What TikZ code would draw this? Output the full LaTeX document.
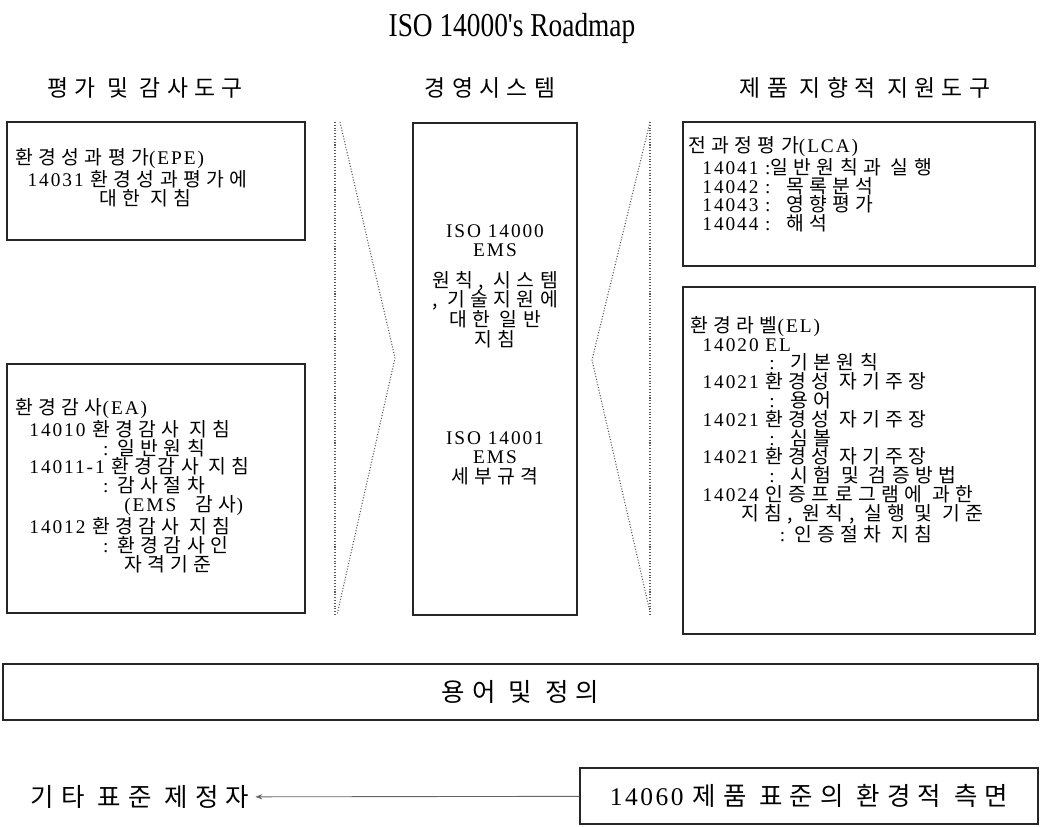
\documentclass[tikz,border=0pt]{standalone}
\usepackage{fontspec}
\setmainfont{Liberation Serif}[LetterSpace=10]
\newfontfamily\kr{Noto Sans CJK KR}[LetterSpace=28]
\newfontfamily\titlefont{Liberation Serif}[Ligatures=TeXOff, FakeStretch=0.82]
\usetikzlibrary{arrows.meta}

\tikzset{
  boxline/.style={draw=black!85, line width=1.3pt},
  boxtext/.style={anchor=north west, align=left, inner sep=0pt, font=\fontsize{11}{10.7}\selectfont},
  midtext/.style={anchor=north, align=center, inner sep=0pt, font=\fontsize{11}{11.2}\selectfont},
  headtext/.style={font=\fontsize{13}{15}\selectfont},
  bigtext/.style={font=\fontsize{14.5}{16}\selectfont},
  chevron/.style={draw=black!65, densely dotted, line width=0.6pt},
}

\begin{document}
\begin{tikzpicture}[x=0.02cm, y=-0.02cm]
    \useasboundingbox (0,0) rectangle (1041,827);

    % title and column heads
    \node (title) at (512,28) {\titlefont\fontsize{19}{21}\selectfont ISO 14000's Roadmap};
    \node[headtext] (headl) at (145,88) {\kr 평가 및 감사도구};
    \node[headtext] (headm) at (490,88) {\kr 경영시스템};
    \node[headtext] (headr) at (865,88) {\kr 제품 지향적 지원도구};

    % boxes
    \draw[boxline] (7,122) rectangle (305,240);
    \draw[boxline] (7,364) rectangle (305,613);
    \draw[boxline] (413,123) rectangle (577,615);
    \draw[boxline] (683,122) rectangle (1035,266);
    \draw[boxline] (683,287) rectangle (1035,634);

    % dotted chevrons
    \draw[chevron] (335,122) -- (335,615);
    \draw[chevron] (340,122) -- (395,358) -- (337,615);
    \draw[chevron] (650,122) -- (650,615);
    \draw[chevron] (650,122) -- (592,360) -- (650,612);

    % left column
    \node[boxtext] (epe) at (15,148) {{\kr 환경성과평가}(EPE)\\
        \hspace{7pt}14031 {\kr 환경성과평가에}\\
        \hspace{48pt}{\kr 대한 지침}};
    \node[boxtext] (ea) at (15,398) {{\kr 환경감사}(EA)\\
        \hspace{8pt}14010 {\kr 환경감사 지침}\\
        \hspace{50pt}: {\kr 일반원칙}\\
        \hspace{8pt}14011-1 {\kr 환경감사 지침}\\
        \hspace{50pt}: {\kr 감사절차}\\
        \hspace{62pt}(EMS\hspace{1em}{\kr 감사})\\
        \hspace{8pt}14012 {\kr 환경감사 지침}\\
        \hspace{50pt}: {\kr 환경감사인}\\
        \hspace{62pt}{\kr 자격기준}};

    % middle column
    \node[midtext] (ems) at (495,224) {ISO 14000\\EMS\\[6pt]{\kr 원칙, 시스템}\\{\kr , 기술지원에}\\{\kr 대한 일반}\\{\kr 지침}};
    \node[midtext] (ems1) at (495,431) {ISO 14001\\EMS\\{\kr 세부규격}};

    % right column
    \node[boxtext] (lca) at (688,136) {{\kr 전과정평가}(LCA)\\
        \hspace{8pt}14041 :{\kr 일반원칙과 실행}\\
        \hspace{8pt}14042 : \ {\kr 목록분석}\\
        \hspace{8pt}14043 : \ {\kr 영향평가}\\
        \hspace{8pt}14044 : \ {\kr 해석}};
    \node[boxtext] (el) at (690,316) {{\kr 환경라벨}(EL)\\
        \hspace{7pt}14020 EL\\
        \hspace{45pt}: \ {\kr 기본원칙}\\
        \hspace{7pt}14021 {\kr 환경성 자기주장}\\
        \hspace{45pt}: \ {\kr 용어}\\
        \hspace{7pt}14021 {\kr 환경성 자기주장}\\
        \hspace{45pt}: \ {\kr 심볼}\\
        \hspace{7pt}14021 {\kr 환경성 자기주장}\\
        \hspace{45pt}: \ {\kr 시험 및 검증방법}\\
        \hspace{7pt}14024 {\kr 인증프로그램에 과한}\\
        \hspace{29pt}{\kr 지침, 원칙, 실행 및 기준}\\
        \hspace{51pt}: {\kr 인증절차 지침}};

    % bottom
    \node[boxline, bigtext, minimum width=20.7cm, minimum height=1.12cm] (terms) at (520.5,692) {\kr 용어 및 정의};
    \node[boxline, bigtext, minimum width=9.16cm, minimum height=1.12cm] (iso14060) at (809,796) {14060 {\kr 제품 표준의 환경적 측면}};
    \node[bigtext] (others) at (140,797) {\kr 기타 표준 제정자};
    \draw[-{Stealth[length=4pt,width=3pt]}, black!60, line width=0.5pt] (iso14060) -- (others);
\end{tikzpicture}
\end{document}
